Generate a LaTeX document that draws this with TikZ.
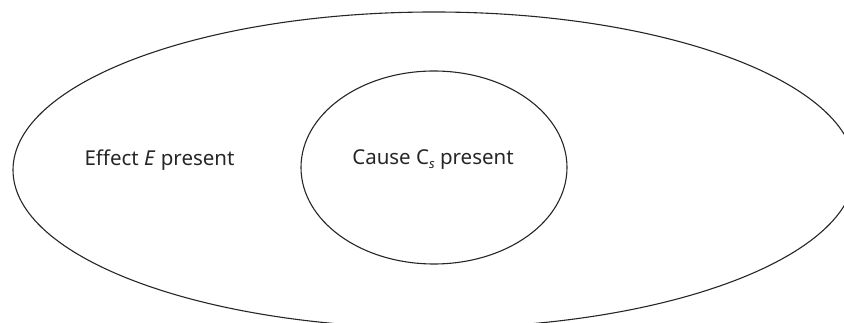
\documentclass[tikz,border=0pt]{standalone}
\usepackage{fontspec}
\setmainfont{Noto Sans}
\usetikzlibrary{shapes.geometric}
\begin{document}
\begin{tikzpicture}[x=1pt,y=1pt,
  outline/.style={draw=black!85,line width=1.1pt},
  lbl/.style={font=\fontsize{20.5}{24}\selectfont,text=black!85,inner sep=0pt}]
\useasboundingbox (0,0) rectangle (844,323);
\clip (0,0) rectangle (844,323);
\node[outline,ellipse,minimum width=842pt,minimum height=316pt,inner sep=0pt] (effect) at (434,153) {};
\node[outline,ellipse,minimum width=266pt,minimum height=193pt,inner sep=0pt] (cause) at (434,155.5) {};
\node[lbl] (effectlbl) at (159.5,163) {Effect \textit{E} present};
\node[lbl] (causelbl) at (433,163) {Cause C\raisebox{-0.35ex}{\fontsize{13}{14}\selectfont\textit{s}} present};
\end{tikzpicture}
\end{document}
